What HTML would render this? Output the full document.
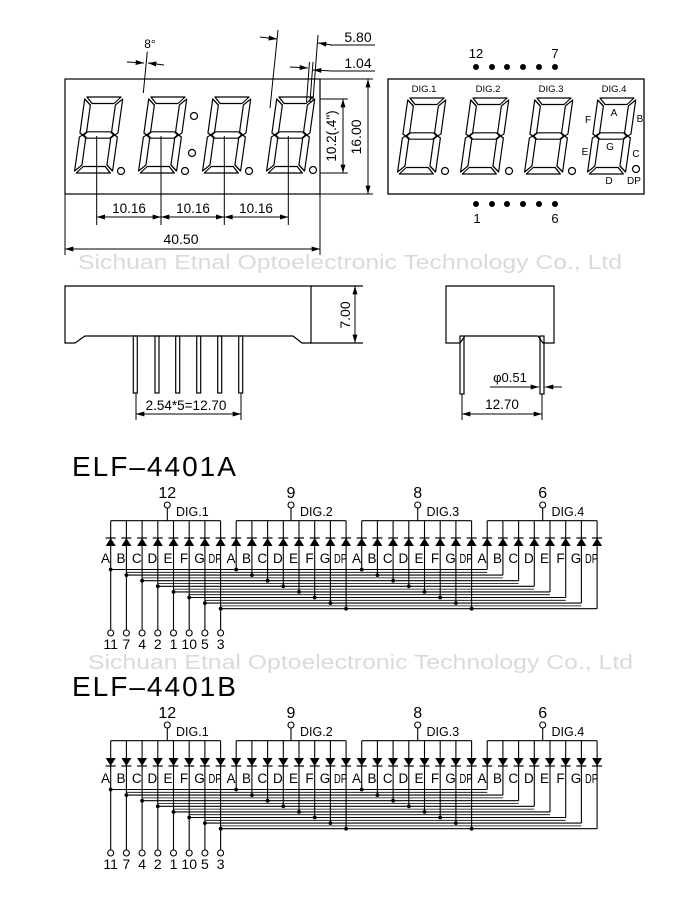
<!DOCTYPE html>
<html><head><meta charset="utf-8"><style>
html,body{margin:0;padding:0;background:#fff}
svg{display:block}
text{font-family:"Liberation Sans",Arial,sans-serif;fill:#000}
</style></head><body>
<svg width="700" height="900" viewBox="0 0 700 900" xmlns="http://www.w3.org/2000/svg" xmlns:xlink="http://www.w3.org/1999/xlink">
<defs>
<marker id="ar" viewBox="0 0 10 6" refX="10" refY="3" markerWidth="9" markerHeight="5" markerUnits="userSpaceOnUse" orient="auto-start-reverse"><path d="M0,0 L10,3 L0,6 Z" fill="#000"/></marker>
<g id="dg" fill="none" stroke="#000" stroke-width="1.2" stroke-linejoin="round">
<polygon points="2,0 36,0 30,6.5 8,6.5"/>
<polygon points="38,2 38,36 35,38 31.5,35 31.5,8"/>
<polygon points="0,2 6.5,8 6.5,35 3,38 0,36"/>
<polygon points="4,38 7.5,34.8 30.5,34.8 34,38 30.5,41.2 7.5,41.2"/>
<polygon points="0,40 3,38 6.5,41 6.5,68 0,74"/>
<polygon points="38,40 35,38 31.5,41 31.5,68 38,74"/>
<polygon points="2,76 36,76 30,69.5 8,69.5"/>
</g>
<g id="du"><line x1="-5" y1="538" x2="5" y2="538" stroke="#000" stroke-width="1.2"/><polygon points="0,538 -5,546 5,546" fill="#000"/></g>
<g id="dd"><line x1="-5" y1="546" x2="5" y2="546" stroke="#000" stroke-width="1.2"/><polygon points="0,546 -5,538 5,538" fill="#000"/></g>
<g id="sch" stroke="#000" stroke-width="1.1" fill="none">
<path d="M110.7,520.7H220.6M236.2,520.7H346.1M361.7,520.7H471.6M487.2,520.7H597.1"/>
<path d="M167.3,508V520.7M291,508V520.7M417.7,508V520.7M542.7,508V520.7"/>
<circle cx="167.3" cy="505" r="3"/><circle cx="291" cy="505" r="3"/><circle cx="417.7" cy="505" r="3"/><circle cx="542.7" cy="505" r="3"/>
<path d="M110.7,520.7V630M126.4,520.7V630M142.1,520.7V630M157.8,520.7V630M173.5,520.7V630M189.2,520.7V630M204.9,520.7V630M220.6,520.7V630"/>
<path d="M236.2,520.7V569.5M251.9,520.7V575.1M267.6,520.7V580.7M283.3,520.7V586.3M299,520.7V591.9M314.7,520.7V597.5M330.4,520.7V603.1M346.1,520.7V608.7"/>
<path d="M361.7,520.7V569.5M377.4,520.7V575.1M393.1,520.7V580.7M408.8,520.7V586.3M424.5,520.7V591.9M440.2,520.7V597.5M455.9,520.7V603.1M471.6,520.7V608.7"/>
<path d="M487.2,520.7V569.5M502.9,520.7V575.1M518.6,520.7V580.7M534.3,520.7V586.3M550,520.7V591.9M565.7,520.7V597.5M581.4,520.7V603.1M597.1,520.7V608.7"/>
<path d="M110.7,569.5H487.2M126.4,575.1H502.9M142.1,580.7H518.6M157.8,586.3H534.3M173.5,591.9H550M189.2,597.5H565.7M204.9,603.1H581.4M220.6,608.7H597.1"/>
<path stroke-width="0.8" d="M126.4,572.3H487.2M142.1,577.9H502.9M157.8,583.5H518.6M173.5,589.1H534.3M189.2,594.7H550M204.9,600.3H565.7M220.6,605.9H581.4"/>
<circle cx="110.7" cy="633" r="3"/><circle cx="126.4" cy="633" r="3"/><circle cx="142.1" cy="633" r="3"/><circle cx="157.8" cy="633" r="3"/><circle cx="173.5" cy="633" r="3"/><circle cx="189.2" cy="633" r="3"/><circle cx="204.9" cy="633" r="3"/><circle cx="220.6" cy="633" r="3"/>
</g>
<g id="dots" fill="#000">
<circle cx="110.7" cy="569.5" r="1.9"/><circle cx="126.4" cy="575.1" r="1.9"/><circle cx="142.1" cy="580.7" r="1.9"/><circle cx="157.8" cy="586.3" r="1.9"/><circle cx="173.5" cy="591.9" r="1.9"/><circle cx="189.2" cy="597.5" r="1.9"/><circle cx="204.9" cy="603.1" r="1.9"/><circle cx="220.6" cy="608.7" r="1.9"/>
<circle cx="236.2" cy="569.5" r="1.9"/><circle cx="251.9" cy="575.1" r="1.9"/><circle cx="267.6" cy="580.7" r="1.9"/><circle cx="283.3" cy="586.3" r="1.9"/><circle cx="299" cy="591.9" r="1.9"/><circle cx="314.7" cy="597.5" r="1.9"/><circle cx="330.4" cy="603.1" r="1.9"/><circle cx="346.1" cy="608.7" r="1.9"/>
<circle cx="361.7" cy="569.5" r="1.9"/><circle cx="377.4" cy="575.1" r="1.9"/><circle cx="393.1" cy="580.7" r="1.9"/><circle cx="408.8" cy="586.3" r="1.9"/><circle cx="424.5" cy="591.9" r="1.9"/><circle cx="440.2" cy="597.5" r="1.9"/><circle cx="455.9" cy="603.1" r="1.9"/><circle cx="471.6" cy="608.7" r="1.9"/>
</g>
<g id="lbl">
<g font-size="16" text-anchor="middle"><text x="167.3" y="498">12</text><text x="291" y="498">9</text><text x="417.7" y="498">8</text><text x="542.7" y="498">6</text></g>
<g font-size="12.5"><text x="176" y="516">DIG.1</text><text x="300" y="516">DIG.2</text><text x="426.5" y="516">DIG.3</text><text x="551.5" y="516">DIG.4</text></g>
<g id="seg" font-size="13.5" text-anchor="middle">
<text x="105.5" y="563">A</text><text x="121" y="563">B</text><text x="136.7" y="563">C</text><text x="152.4" y="563">D</text><text x="168" y="563">E</text><text x="184" y="563">F</text><text x="199.5" y="563">G</text><text x="215" y="563" font-size="13" textLength="13" lengthAdjust="spacingAndGlyphs">DP</text>
</g>
<use xlink:href="#seg" x="125.5"/><use xlink:href="#seg" x="251"/><use xlink:href="#seg" x="376.5"/>
<g font-size="14" text-anchor="middle"><text x="110.7" y="649">11</text><text x="126.4" y="649">7</text><text x="142.1" y="649">4</text><text x="157.8" y="649">2</text><text x="173.5" y="649">1</text><text x="189.2" y="649">10</text><text x="204.9" y="649">5</text><text x="220.6" y="649">3</text></g>
</g>
</defs>

<text x="78" y="269" font-size="20" style="fill:#dadada" textLength="544" lengthAdjust="spacingAndGlyphs">Sichuan Etnal Optoelectronic Technology Co., Ltd</text>
<text x="88" y="669" font-size="20" style="fill:#dadada" textLength="545" lengthAdjust="spacingAndGlyphs">Sichuan Etnal Optoelectronic Technology Co., Ltd</text>

<g fill="none" stroke="#000" stroke-width="1.2">
<rect x="65" y="79" width="255" height="115"/>
<circle cx="121" cy="171" r="3.5"/><circle cx="185" cy="171" r="3.5"/><circle cx="249" cy="171" r="3.5"/><circle cx="313" cy="170" r="3.5"/>
<circle cx="194" cy="116" r="3.5"/><circle cx="192" cy="153" r="3.5"/>
</g>
<use xlink:href="#dg" transform="translate(85,97) skewX(-8)"/>
<use xlink:href="#dg" transform="translate(149,97) skewX(-8)"/>
<use xlink:href="#dg" transform="translate(213,97) skewX(-8)"/>
<use xlink:href="#dg" transform="translate(277,97) skewX(-8)"/>
<g stroke="#000" stroke-width="1" fill="none">
<path d="M96.7,136V225M161,136V225M224.3,136V225M288.3,136V225"/>
<line x1="96.7" y1="217" x2="161" y2="217" marker-start="url(#ar)" marker-end="url(#ar)"/>
<line x1="161" y1="217" x2="224.3" y2="217" marker-start="url(#ar)" marker-end="url(#ar)"/>
<line x1="224.3" y1="217" x2="288.3" y2="217" marker-start="url(#ar)" marker-end="url(#ar)"/>
<path d="M65,194V255M320,194V255"/>
<line x1="65" y1="249" x2="320" y2="249" marker-start="url(#ar)" marker-end="url(#ar)"/>
<path d="M143.3,93L147.3,51.7"/>
<line x1="127" y1="62" x2="144" y2="63" marker-end="url(#ar)"/>
<line x1="164" y1="65" x2="148" y2="63" marker-end="url(#ar)"/>
<path d="M270,108L278,30M313,100L318,35M306.5,102L309.5,62M310,102L313,62"/>
<line x1="260" y1="37" x2="277" y2="39" marker-end="url(#ar)"/>
<line x1="332" y1="45" x2="318" y2="43" marker-end="url(#ar)"/>
<path d="M330,45H375M330,71H375"/>
<line x1="290" y1="67" x2="308" y2="68" marker-end="url(#ar)"/>
<line x1="332" y1="71" x2="313" y2="70" marker-end="url(#ar)"/>
<path d="M320,99H348M320,173H348M320,79H373M320,194H373"/>
<line x1="343" y1="99" x2="343" y2="173" marker-start="url(#ar)" marker-end="url(#ar)"/>
<line x1="368" y1="79" x2="368" y2="194" marker-start="url(#ar)" marker-end="url(#ar)"/>
</g>
<g font-size="13.5" text-anchor="middle">
<text x="129" y="213">10.16</text><text x="193" y="213">10.16</text><text x="256" y="213">10.16</text>
<text x="181" y="244" font-size="14">40.50</text>
<text x="150" y="48" font-size="12">8°</text>
<text x="358" y="42" font-size="14">5.80</text>
<text x="358" y="68" font-size="14">1.04</text>
<text transform="translate(336,136) rotate(-90)">10.2(.4")</text>
<text transform="translate(361,137) rotate(-90)" font-size="14">16.00</text>
</g>

<rect x="388" y="79" width="256" height="115" fill="none" stroke="#000" stroke-width="1.3"/>
<use xlink:href="#dg" transform="translate(408,98) skewX(-8)"/>
<use xlink:href="#dg" transform="translate(471,98) skewX(-8)"/>
<use xlink:href="#dg" transform="translate(535,98) skewX(-8)"/>
<use xlink:href="#dg" transform="translate(598,98) skewX(-8)"/>
<g fill="none" stroke="#000" stroke-width="1.2">
<circle cx="445" cy="171" r="3.5"/><circle cx="509" cy="171" r="3.5"/><circle cx="572" cy="171" r="3.5"/><circle cx="636" cy="169" r="3.5"/>
</g>
<g font-size="9.5" text-anchor="middle">
<text x="424" y="92">DIG.1</text><text x="488" y="92">DIG.2</text><text x="551" y="92">DIG.3</text><text x="614" y="92">DIG.4</text>
<text x="614" y="116" font-size="10">A</text><text x="640" y="122" font-size="10">B</text><text x="588" y="123" font-size="10">F</text>
<text x="610" y="150" font-size="10">G</text><text x="585" y="155" font-size="10">E</text><text x="636" y="157" font-size="10">C</text>
<text x="609" y="184" font-size="10">D</text><text x="634" y="184" font-size="10">DP</text>
</g>
<g fill="#000">
<circle cx="476" cy="67" r="3"/><circle cx="492" cy="67" r="3"/><circle cx="507" cy="67" r="3"/><circle cx="523" cy="67" r="3"/><circle cx="539" cy="67" r="3"/><circle cx="555" cy="67" r="3"/>
<circle cx="476" cy="204" r="3"/><circle cx="492" cy="204" r="3"/><circle cx="507" cy="204" r="3"/><circle cx="523" cy="204" r="3"/><circle cx="539" cy="204" r="3"/><circle cx="555" cy="204" r="3"/>
</g>
<g font-size="13" text-anchor="middle">
<text x="476" y="58">12</text><text x="555" y="58">7</text><text x="477" y="223">1</text><text x="555" y="223">6</text>
</g>

<g fill="none" stroke="#000" stroke-width="1.2">
<path d="M311,286 L65,286 L65,343 L75,343 L85,336 L293,336 L302,343 L311,343 Z"/>
<path d="M311,286H363M311,343H363"/>
<line x1="355" y1="286" x2="355" y2="343" marker-start="url(#ar)" marker-end="url(#ar)" stroke-width="1"/>
<rect x="133.3" y="336" width="4" height="57"/><rect x="155" y="336" width="4" height="57"/><rect x="175.7" y="336" width="4" height="57"/><rect x="196.7" y="336" width="4" height="57"/><rect x="217.7" y="336" width="4" height="57"/><rect x="238.7" y="336" width="4" height="57"/>
<path d="M136,393V420M241,393V420" stroke-width="1"/>
<line x1="136" y1="414" x2="241" y2="414" marker-start="url(#ar)" marker-end="url(#ar)" stroke-width="1"/>
<path d="M446,286 L554,286 L554,343 L543,343 L538,336 L465,336 L460,343 L446,343 Z"/>
<rect x="460" y="336" width="4" height="58"/><rect x="540" y="336" width="4" height="58"/>
<path d="M462,394V420M542,394V420" stroke-width="1"/>
<line x1="462" y1="414" x2="542" y2="414" marker-start="url(#ar)" marker-end="url(#ar)" stroke-width="1"/>
<line x1="490" y1="387" x2="539" y2="387" marker-end="url(#ar)" stroke-width="1"/>
<line x1="562" y1="387" x2="545" y2="387" marker-end="url(#ar)" stroke-width="1"/>
</g>
<g font-size="13.5" text-anchor="middle">
<text transform="translate(350,315) rotate(-90)" font-size="14">7.00</text>
<text x="186" y="410">2.54*5=12.70</text>
<text x="502" y="409">12.70</text>
<text x="510" y="382" font-size="13">φ0.51</text>
</g>

<text x="72" y="476" font-size="28" letter-spacing="2">ELF–4401A</text>
<use xlink:href="#sch"/><use xlink:href="#dots"/><use xlink:href="#lbl"/>
<g>
<use xlink:href="#du" x="110.7"/><use xlink:href="#du" x="126.4"/><use xlink:href="#du" x="142.1"/><use xlink:href="#du" x="157.8"/><use xlink:href="#du" x="173.5"/><use xlink:href="#du" x="189.2"/><use xlink:href="#du" x="204.9"/><use xlink:href="#du" x="220.6"/>
<use xlink:href="#du" x="236.2"/><use xlink:href="#du" x="251.9"/><use xlink:href="#du" x="267.6"/><use xlink:href="#du" x="283.3"/><use xlink:href="#du" x="299"/><use xlink:href="#du" x="314.7"/><use xlink:href="#du" x="330.4"/><use xlink:href="#du" x="346.1"/>
<use xlink:href="#du" x="361.7"/><use xlink:href="#du" x="377.4"/><use xlink:href="#du" x="393.1"/><use xlink:href="#du" x="408.8"/><use xlink:href="#du" x="424.5"/><use xlink:href="#du" x="440.2"/><use xlink:href="#du" x="455.9"/><use xlink:href="#du" x="471.6"/>
<use xlink:href="#du" x="487.2"/><use xlink:href="#du" x="502.9"/><use xlink:href="#du" x="518.6"/><use xlink:href="#du" x="534.3"/><use xlink:href="#du" x="550"/><use xlink:href="#du" x="565.7"/><use xlink:href="#du" x="581.4"/><use xlink:href="#du" x="597.1"/>
</g>

<text x="72" y="696" font-size="28" letter-spacing="2">ELF–4401B</text>
<g transform="translate(0,220)">
<use xlink:href="#sch"/><use xlink:href="#dots"/><use xlink:href="#lbl"/>
<use xlink:href="#dd" x="110.7"/><use xlink:href="#dd" x="126.4"/><use xlink:href="#dd" x="142.1"/><use xlink:href="#dd" x="157.8"/><use xlink:href="#dd" x="173.5"/><use xlink:href="#dd" x="189.2"/><use xlink:href="#dd" x="204.9"/><use xlink:href="#dd" x="220.6"/>
<use xlink:href="#dd" x="236.2"/><use xlink:href="#dd" x="251.9"/><use xlink:href="#dd" x="267.6"/><use xlink:href="#dd" x="283.3"/><use xlink:href="#dd" x="299"/><use xlink:href="#dd" x="314.7"/><use xlink:href="#dd" x="330.4"/><use xlink:href="#dd" x="346.1"/>
<use xlink:href="#dd" x="361.7"/><use xlink:href="#dd" x="377.4"/><use xlink:href="#dd" x="393.1"/><use xlink:href="#dd" x="408.8"/><use xlink:href="#dd" x="424.5"/><use xlink:href="#dd" x="440.2"/><use xlink:href="#dd" x="455.9"/><use xlink:href="#dd" x="471.6"/>
<use xlink:href="#dd" x="487.2"/><use xlink:href="#dd" x="502.9"/><use xlink:href="#dd" x="518.6"/><use xlink:href="#dd" x="534.3"/><use xlink:href="#dd" x="550"/><use xlink:href="#dd" x="565.7"/><use xlink:href="#dd" x="581.4"/><use xlink:href="#dd" x="597.1"/>
</g>
</svg>
</body></html>
